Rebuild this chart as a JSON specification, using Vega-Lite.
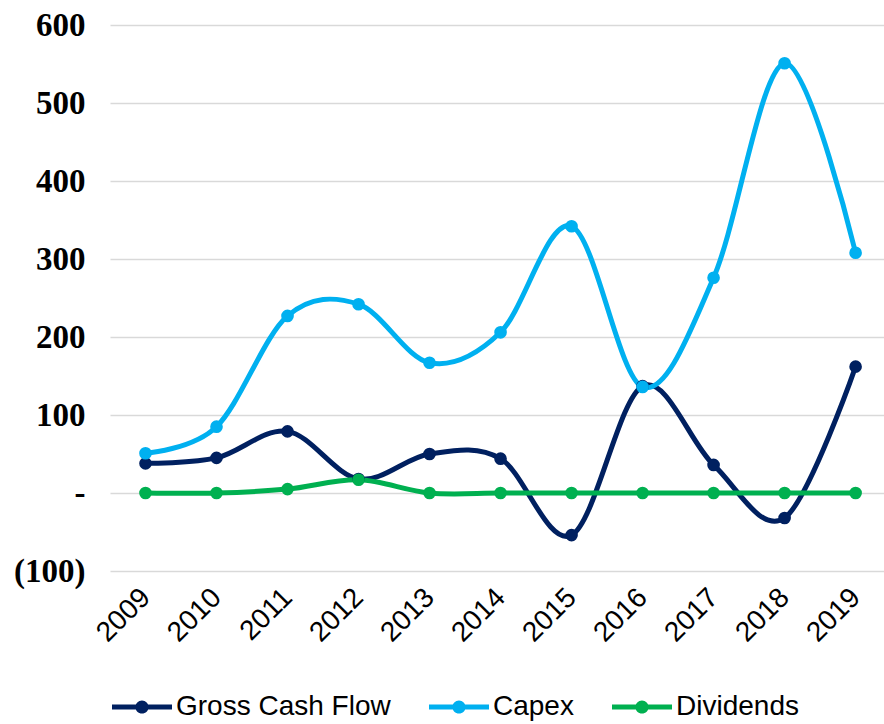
{
  "$schema": "https://vega.github.io/schema/vega-lite/v6.json",
  "width": 774,
  "height": 546,
  "autosize": {"type": "none"},
  "padding": {"left": 110, "top": 25, "right": 0, "bottom": 153},
  "background": "white",
  "config": {
    "view": {"stroke": null},
    "axis": {"grid": false, "domain": false, "ticks": false}
  },
  "data": {
    "values": [
      {"year": 2009, "series": "Gross Cash Flow", "value": 38},
      {"year": 2010, "series": "Gross Cash Flow", "value": 45},
      {"year": 2011, "series": "Gross Cash Flow", "value": 79},
      {"year": 2012, "series": "Gross Cash Flow", "value": 18},
      {"year": 2013, "series": "Gross Cash Flow", "value": 50},
      {"year": 2014, "series": "Gross Cash Flow", "value": 44},
      {"year": 2015, "series": "Gross Cash Flow", "value": -54},
      {"year": 2016, "series": "Gross Cash Flow", "value": 137},
      {"year": 2017, "series": "Gross Cash Flow", "value": 36},
      {"year": 2018, "series": "Gross Cash Flow", "value": -32},
      {"year": 2019, "series": "Gross Cash Flow", "value": 162},
      {"year": 2009, "series": "Capex", "value": 51},
      {"year": 2010, "series": "Capex", "value": 85},
      {"year": 2011, "series": "Capex", "value": 227},
      {"year": 2012, "series": "Capex", "value": 242},
      {"year": 2013, "series": "Capex", "value": 167},
      {"year": 2014, "series": "Capex", "value": 206},
      {"year": 2015, "series": "Capex", "value": 342},
      {"year": 2016, "series": "Capex", "value": 136},
      {"year": 2017, "series": "Capex", "value": 276},
      {"year": 2018, "series": "Capex", "value": 551},
      {"year": 2019, "series": "Capex", "value": 308},
      {"year": 2009, "series": "Dividends", "value": 0},
      {"year": 2010, "series": "Dividends", "value": 0},
      {"year": 2011, "series": "Dividends", "value": 5},
      {"year": 2012, "series": "Dividends", "value": 17},
      {"year": 2013, "series": "Dividends", "value": 0},
      {"year": 2014, "series": "Dividends", "value": 0},
      {"year": 2015, "series": "Dividends", "value": 0},
      {"year": 2016, "series": "Dividends", "value": 0},
      {"year": 2017, "series": "Dividends", "value": 0},
      {"year": 2018, "series": "Dividends", "value": 0},
      {"year": 2019, "series": "Dividends", "value": 0}
    ]
  },
  "encoding": {
    "x": {
      "field": "year",
      "type": "quantitative",
      "scale": {"domain": [2008.5, 2019.4], "nice": false, "zero": false},
      "axis": {
        "title": null,
        "values": [2009, 2010, 2011, 2012, 2013, 2014, 2015, 2016, 2017, 2018, 2019],
        "format": "d",
        "labelAngle": -45,
        "labelAlign": "right",
        "labelBaseline": "middle",
        "labelFont": "Liberation Sans",
        "labelFontSize": 28,
        "labelColor": "#000000",
        "labelPadding": 22,
        "labelOverlap": false,
        "labelFlush": false
      }
    },
    "y": {
      "field": "value",
      "type": "quantitative",
      "scale": {"domain": [-100, 600], "nice": false, "zero": false},
      "axis": {
        "title": null,
        "values": [-100, 0, 100, 200, 300, 400, 500, 600],
        "grid": true,
        "gridColor": "#d9d9d9",
        "gridWidth": 1.5,
        "labelFont": "Liberation Serif",
        "labelFontSize": 33,
        "labelFontWeight": "bold",
        "labelColor": "#000000",
        "labelPadding": 25,
        "labelOverlap": false,
        "labelExpr": "datum.value === 0 ? '-\u2002\u2004' : datum.value < 0 ? '(' + format(-datum.value, 'd') + ')' : format(datum.value, 'd') + '\u2004'"
      }
    },
    "color": {
      "field": "series",
      "type": "nominal",
      "scale": {
        "domain": ["Gross Cash Flow", "Capex", "Dividends"],
        "range": ["#002060", "#00B0F0", "#00B050"]
      },
      "legend": {
        "title": null,
        "orient": "none",
        "direction": "horizontal",
        "legendX": 2,
        "legendY": 652,
        "labelFont": "Liberation Sans",
        "labelFontSize": 28,
        "labelColor": "#000000",
        "labelLimit": 0,
        "labelOffset": 4,
        "columnPadding": 38,
        "symbolType": "M-1,-0.085H1V0.085H-1Z M0.22,0 A0.22,0.22 0 1,1 -0.22,0 A0.22,0.22 0 1,1 0.22,0Z",
        "symbolSize": 3600,
        "symbolStrokeWidth": 0
      }
    }
  },
  "layer": [
    {
      "mark": {"type": "line", "interpolate": "cardinal", "strokeWidth": 5}
    },
    {
      "mark": {"type": "point", "filled": true, "opacity": 1, "size": 160}
    }
  ]
}
